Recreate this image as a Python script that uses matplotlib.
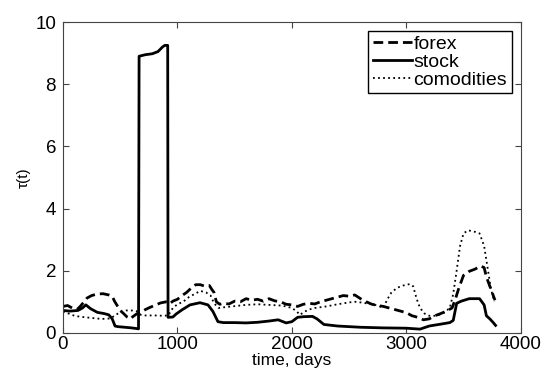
import matplotlib
matplotlib.use('Agg')
import matplotlib.pyplot as plt

plt.rcParams['font.family'] = ['Liberation Sans', 'DejaVu Sans']

# stock (solid)
x_stock = [0, 60, 130, 170, 200, 240, 300, 360, 400, 430, 455, 480, 540, 600, 660,
           665, 720, 780, 830, 870, 890, 915,
           918, 960, 990, 1040, 1110, 1197, 1267, 1310, 1354, 1400, 1500, 1600, 1700,
           1800, 1880, 1950, 2000, 2050, 2100, 2180, 2220, 2280, 2400, 2600, 2800,
           3000, 3080, 3120, 3200, 3300, 3380, 3410, 3440, 3480, 3550, 3640, 3680,
           3700, 3730, 3760, 3780]
y_stock = [0.72, 0.70, 0.72, 0.80, 0.90, 0.78, 0.66, 0.62, 0.58, 0.45, 0.22, 0.20, 0.18, 0.16, 0.13,
           8.90, 8.95, 8.98, 9.05, 9.20, 9.25, 9.25,
           0.50, 0.51, 0.61, 0.74, 0.90, 0.97, 0.90, 0.69, 0.36, 0.33, 0.33, 0.32, 0.34,
           0.38, 0.42, 0.32, 0.36, 0.50, 0.52, 0.53, 0.45, 0.27, 0.22, 0.18, 0.16,
           0.15, 0.13, 0.12, 0.22, 0.28, 0.33, 0.40, 0.95, 1.02, 1.10, 1.10, 0.90,
           0.55, 0.45, 0.33, 0.24]

# forex (dashed)
x_forex = [0, 40, 80, 120, 150, 180, 210, 250, 300, 350, 400, 430, 450, 470, 500,
           530, 560, 590, 610, 640, 680, 720, 760, 800, 850, 900, 930, 960, 1000,
           1040, 1080, 1120, 1160, 1200, 1240, 1280, 1300, 1320, 1340, 1370, 1400,
           1450, 1500, 1550, 1600, 1650, 1700, 1750, 1800, 1850, 1900, 1950, 2000,
           2050, 2100, 2150, 2200, 2250, 2300, 2350, 2400, 2450, 2500, 2550, 2600,
           2650, 2700, 2750, 2800, 2850, 2900, 2950, 3000, 3050, 3100, 3150, 3200,
           3250, 3300, 3350, 3400, 3430, 3460, 3500, 3550, 3600, 3650, 3680, 3700,
           3730, 3760, 3775]
y_forex = [0.85, 0.88, 0.80, 0.74, 0.85, 0.98, 1.12, 1.20, 1.25, 1.26, 1.22, 1.18, 1.02, 0.90, 0.72,
           0.62, 0.51, 0.45, 0.52, 0.60, 0.66, 0.75, 0.82, 0.88, 0.96, 1.00, 0.93, 1.02, 1.08,
           1.20, 1.30, 1.44, 1.55, 1.55, 1.50, 1.52, 1.40, 1.30, 1.00, 0.92, 0.95,
           0.93, 1.02, 1.00, 1.10, 1.05, 1.08, 1.02, 1.10, 1.03, 1.00, 0.92, 0.90,
           0.85, 0.92, 0.95, 0.93, 1.00, 1.05, 1.10, 1.15, 1.20, 1.18, 1.22, 1.10,
           1.00, 0.92, 0.88, 0.85, 0.80, 0.75, 0.70, 0.65, 0.55, 0.50, 0.42, 0.45,
           0.55, 0.62, 0.70, 0.80, 1.10, 1.45, 1.85, 1.98, 2.05, 2.15, 2.10, 1.80,
           1.50, 1.20, 1.05]

# comodities (dotted)
x_com = [0, 50, 100, 150, 200, 250, 300, 350, 400, 430, 460, 500, 550, 600, 640, 680,
         720, 800, 880, 920, 960, 1000, 1050, 1100, 1150, 1200, 1250, 1290, 1320,
         1360, 1400, 1500, 1600, 1700, 1800, 1900, 1950, 2000, 2040, 2070, 2110,
         2150, 2200, 2300, 2400, 2500, 2550, 2600, 2650, 2700, 2750, 2800, 2830,
         2870, 2920, 2970, 3030, 3060, 3090, 3120, 3160, 3200, 3260, 3320, 3380,
         3410, 3440, 3470, 3500, 3540, 3600, 3640, 3680, 3710, 3740, 3770]
y_com = [0.68, 0.62, 0.55, 0.52, 0.50, 0.48, 0.46, 0.45, 0.46, 0.50, 0.58, 0.66, 0.72, 0.72, 0.70, 0.58,
         0.56, 0.56, 0.55, 0.56, 0.80, 0.92, 1.00, 1.15, 1.25, 1.35, 1.30, 1.20, 0.95,
         0.80, 0.82, 0.86, 0.90, 0.92, 0.90, 0.88, 0.85, 0.80, 0.70, 0.58, 0.68,
         0.75, 0.80, 0.85, 0.92, 0.98, 1.00, 0.98, 0.95, 0.92, 0.88, 0.80, 1.05,
         1.30, 1.45, 1.52, 1.57, 1.50, 1.10, 0.80, 0.62, 0.55, 0.55, 0.62, 0.80,
         1.25, 2.00, 2.80, 3.20, 3.30, 3.25, 3.20, 2.80, 2.10, 1.40, 1.00]

fig = plt.figure(figsize=(5.43, 3.74), dpi=100)
ax = fig.add_axes([0.116, 0.110, 0.843, 0.831])

ax.plot(x_forex, y_forex, color='black', lw=2.0, ls=(0, (3.5, 1.8)), label='forex')
ax.plot(x_stock, y_stock, color='black', lw=2.0, ls='-', label='stock')
ax.plot(x_com, y_com, color='black', lw=1.3, ls=(0, (1, 1.8)), label='comodities')

ax.set_xlim(0, 4000)
ax.set_ylim(0, 10)
ax.set_xticks([0, 1000, 2000, 3000, 4000])
ax.set_yticks([0, 2, 4, 6, 8, 10])
ax.tick_params(direction='in', top=True, right=True, labelsize=13.5, length=4,
               color='#444444')
ax.tick_params(axis='x', pad=2)
ax.tick_params(axis='y', pad=5)
for s in ax.spines.values():
    s.set_color('#444444')

ax.set_xlabel('time, days', fontsize=12.5, labelpad=0.5)
ax.set_ylabel('τ(t)', fontsize=11, labelpad=3)

leg = ax.legend(loc='upper right', fontsize=14, handlelength=2.0, handletextpad=0.1,
                fancybox=False, framealpha=1, edgecolor='black', borderaxespad=0.45,
                labelspacing=0.0, borderpad=0.25)
leg.get_frame().set_linewidth(1.0)

fig.savefig('out.png', dpi=100)
